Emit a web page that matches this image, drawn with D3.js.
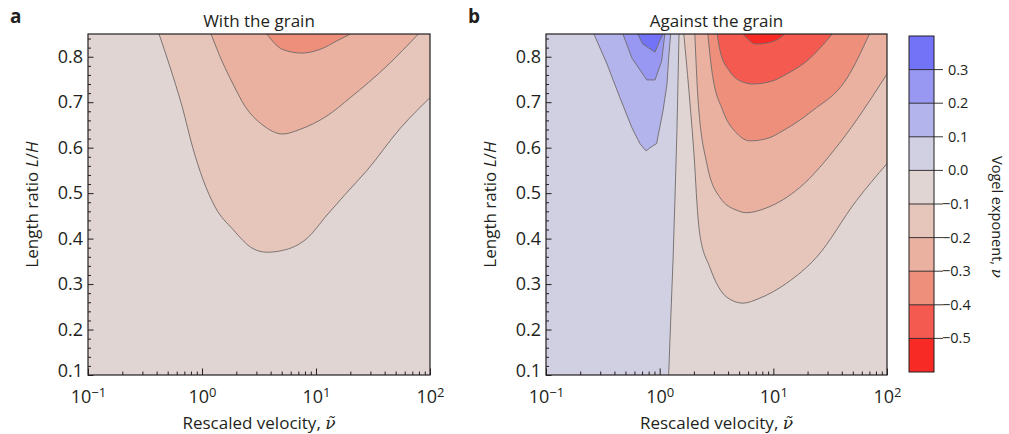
<!DOCTYPE html>
<html>
<head>
<meta charset="utf-8">
<script src="https://cdn.jsdelivr.net/npm/d3@7"></script>
<style>
body { margin: 0; background: #fff; }
text { font-family: "Open Sans", sans-serif; fill: #231f20; }
</style>
</head>
<body>
<div id="chart"></div>
<script>
// chart size
const width = 1009;
const height = 434;

// axis ticks
const velocityTicks = [0.1, 1, 10, 100];
const velocityExponents = ["\u22121", "0", "1", "2"];
const ratioTicks = [0.1, 0.2, 0.3, 0.4, 0.5, 0.6, 0.7, 0.8];

// colour bar levels (contour boundaries) and band colours, lowest band first
const levels = [-0.5, -0.4, -0.3, -0.2, -0.1, 0.0, 0.1, 0.2, 0.3];
const bandColors = ["#f82a25", "#f45a50", "#ee8f7c", "#eab1a0", "#e6c5ba",
                    "#e0d5d3", "#d0d0e2", "#b4b4ec", "#9898f2", "#7373f8"];

// panel a: with the grain, contour lines as [velocity, L/H]
const withM01 = [[0.42,0.85],[0.52,0.78],[0.67,0.69],[0.83,0.60],[1.02,0.53],[1.30,0.47],[1.87,0.42],
                 [2.8,0.378],[3.7,0.37],[5.1,0.374],[8.3,0.40],[12.5,0.452],[18,0.497],[28,0.55],[55,0.643],[100,0.71]];
const withM02 = [[1.2,0.85],[1.5,0.79],[1.87,0.74],[2.4,0.69],[3.4,0.65],[5.1,0.63],[7.2,0.64],
                 [12.5,0.67],[20,0.71],[42,0.78],[79,0.85]];
const withM03 = [[3.7,0.85],[5.1,0.816],[7.5,0.808],[10.8,0.816],[15.3,0.835],[20,0.85]];

// panel b: against the grain
const againstZero = [[1.48,0.85],[1.42,0.64],[1.36,0.48],[1.31,0.35],[1.25,0.22],[1.2,0.1]];
const againstP01 = [[0.264,0.85],[0.344,0.784],[0.447,0.71],[0.57,0.644],[0.67,0.609],[0.757,0.593],
                    [0.87,0.604],[0.94,0.609],[1.07,0.681],[1.16,0.74],[1.2,0.797],[1.25,0.85]];
const againstP02 = [[0.475,0.85],[0.57,0.797],[0.77,0.749],[0.91,0.749],[1.04,0.79],[1.11,0.85]];
const againstP03 = [[0.64,0.85],[0.71,0.828],[0.91,0.81],[1.0,0.835],[1.07,0.85]];
const againstM01 = [[1.63,0.85],[1.84,0.703],[2.04,0.556],[2.12,0.484],[2.25,0.411],[2.76,0.337],[3.9,0.271],
                    [5.4,0.258],[7.6,0.269],[13.1,0.302],[24,0.359],[54,0.484],[100,0.565]];
const againstM02 = [[2.04,0.85],[2.17,0.71],[2.6,0.565],[3.4,0.49],[4.8,0.462],[5.8,0.457],[8.8,0.468],
                    [17,0.512],[38,0.609],[100,0.762]];
const againstM03 = [[2.65,0.85],[2.88,0.769],[3.6,0.681],[4.8,0.631],[6.2,0.615],[8.8,0.62],[12.1,0.637],
                    [22,0.681],[44,0.751],[70,0.85]];
const againstM04 = [[3.2,0.85],[3.4,0.813],[4.1,0.769],[5.1,0.747],[6.6,0.74],[9.9,0.747],[13.1,0.762],
                    [19.6,0.79],[33,0.85]];
const againstM05 = [[5.4,0.85],[6.2,0.835],[6.9,0.828],[8.8,0.83],[11.4,0.841],[12.6,0.85]];

const svg = d3.select("#chart").append("svg")
  .attr("width", width)
  .attr("height", height);

const top0 = 34, bottom0 = 375;

function drawPanel(left, right, id, letter, title, fills) {
  const x = d3.scaleLog().domain([0.1, 100]).range([left, right]);
  const y = d3.scaleLinear().domain([0.1, 0.85]).range([bottom0, top0]);

  svg.append("clipPath").attr("id", id)
    .append("rect")
    .attr("x", left).attr("y", top0)
    .attr("width", right - left).attr("height", bottom0 - top0);

  const g = svg.append("g").attr("clip-path", `url(#${id})`);

  // base band (-0.1 to 0)
  g.append("rect")
    .attr("x", left).attr("y", top0)
    .attr("width", right - left).attr("height", bottom0 - top0)
    .attr("fill", bandColors[5]);

  // filled bands, each closed along the plot edges
  fills.forEach(f => {
    const line = d3.line().x(d => x(d[0])).y(d => y(d[1])).curve(f.curve);
    let p = line(f.pts);
    f.close.forEach(c => { p += `L${x(c[0])},${y(c[1])}`; });
    p += "Z";
    g.append("path").attr("d", p).attr("fill", bandColors[f.band]).attr("stroke", "none");
  });

  // contour lines on top
  fills.forEach(f => {
    const line = d3.line().x(d => x(d[0])).y(d => y(d[1])).curve(f.curve);
    g.append("path").attr("d", line(f.pts))
      .attr("fill", "none").attr("stroke", "#6f6a6a").attr("stroke-width", 0.9);
  });

  // x axis, ticks inward
  const minorX = [];
  [0.1, 1, 10].forEach(dd => { for (let k = 2; k <= 9; k++) minorX.push(k * dd); });

  svg.append("g")
    .attr("transform", `translate(0,${bottom0})`)
    .call(d3.axisBottom(x).tickValues(minorX).tickSize(-3.5).tickFormat(""))
    .call(s => s.select(".domain").remove())
    .selectAll("line").attr("stroke", "#231f20");

  const xa = svg.append("g")
    .attr("transform", `translate(0,${bottom0})`)
    .call(d3.axisBottom(x).tickValues(velocityTicks).tickSize(-6.5).tickSizeOuter(0).tickPadding(15).tickFormat(() => "10"));
  xa.select(".domain").remove();
  xa.selectAll("line").attr("stroke", "#231f20");
  xa.selectAll(".tick text")
    .attr("font-size", "18px")
    .attr("font-family", null)
    .each(function(d, i) {
      d3.select(this).append("tspan")
        .attr("dy", "-0.42em").attr("font-size", "13px")
        .text(velocityExponents[i]);
    });

  // y axis
  const minorY = d3.range(10, 86, 2).filter(v => v % 10 !== 0).map(v => v / 100);
  svg.append("g")
    .attr("transform", `translate(${left},0)`)
    .call(d3.axisLeft(y).tickValues(minorY).tickSize(-3).tickFormat(""))
    .call(s => s.select(".domain").remove())
    .selectAll("line").attr("stroke", "#231f20");

  const ya = svg.append("g")
    .attr("transform", `translate(${left},0)`)
    .call(d3.axisLeft(y).tickValues(ratioTicks).tickSize(-5.5).tickSizeOuter(0).tickPadding(5).tickFormat(d3.format(".1f")));
  ya.select(".domain").remove();
  ya.selectAll("line").attr("stroke", "#231f20");
  ya.selectAll(".tick text").attr("font-size", "18px").attr("font-family", null);
  // lowest label sits a little higher so it clears the x labels
  ya.selectAll(".tick text").filter(d => d === 0.1).attr("dy", "0.1em");

  // frame
  svg.append("rect")
    .attr("x", left).attr("y", top0)
    .attr("width", right - left).attr("height", bottom0 - top0)
    .attr("fill", "none").attr("stroke", "#231f20").attr("stroke-width", 1.2);

  const cx = (left + right) / 2;

  svg.append("text").attr("x", cx).attr("y", 27)
    .attr("text-anchor", "middle").attr("font-size", "17px").text(title);

  svg.append("text").attr("x", left - 78).attr("y", 23)
    .attr("font-size", "19px").attr("font-weight", "bold").text(letter);

  const yl = svg.append("text")
    .attr("transform", `translate(${left - 50},${(top0 + bottom0) / 2}) rotate(-90)`)
    .attr("text-anchor", "middle").attr("font-size", "17px");
  yl.append("tspan").text("Length ratio ");
  yl.append("tspan").attr("font-style", "italic").text("L");
  yl.append("tspan").text("/");
  yl.append("tspan").attr("font-style", "italic").text("H");

  const xl = svg.append("text")
    .attr("x", cx).attr("y", 429)
    .attr("text-anchor", "middle").attr("font-size", "17px");
  xl.append("tspan").text("Rescaled velocity, ");
  xl.append("tspan").attr("font-family", "DejaVu Serif").attr("font-style", "italic").text("\u03bd\u0303");
}

const lin = d3.curveLinear;
const smooth = d3.curveMonotoneX;

drawPanel(88, 430, "clipA", "a", "With the grain", [
  {pts: withM01, band: 4, close: [[100, 0.85]], curve: smooth},
  {pts: withM02, band: 3, close: [], curve: smooth},
  {pts: withM03, band: 2, close: [], curve: smooth}
]);

drawPanel(546, 887, "clipB", "b", "Against the grain", [
  {pts: againstZero, band: 6, close: [[0.1, 0.1], [0.1, 0.85]], curve: lin},
  {pts: againstP01, band: 7, close: [], curve: lin},
  {pts: againstP02, band: 8, close: [], curve: lin},
  {pts: againstP03, band: 9, close: [], curve: lin},
  {pts: againstM01, band: 4, close: [[100, 0.85]], curve: smooth},
  {pts: againstM02, band: 3, close: [[100, 0.85]], curve: smooth},
  {pts: againstM03, band: 2, close: [], curve: smooth},
  {pts: againstM04, band: 1, close: [], curve: smooth},
  {pts: againstM05, band: 0, close: [], curve: smooth}
]);

// colour bar
const cbLeft = 909, cbRight = 934, cbTop = 36, cbBottom = 372;
const cbEdges = [-0.6].concat(levels, [0.4]);
const cy = d3.scaleLinear().domain([-0.6, 0.4]).range([cbBottom, cbTop]);

svg.append("g").selectAll("rect")
  .data(bandColors)
  .enter()
  .append("rect")
  .attr("x", cbLeft)
  .attr("y", (d, i) => cy(cbEdges[i + 1]))
  .attr("width", cbRight - cbLeft)
  .attr("height", (d, i) => cy(cbEdges[i]) - cy(cbEdges[i + 1]))
  .attr("fill", d => d);

svg.append("g").selectAll("line")
  .data(levels)
  .enter()
  .append("line")
  .attr("x1", cbLeft).attr("x2", cbRight + 9)
  .attr("y1", d => cy(d)).attr("y2", d => cy(d))
  .attr("stroke", "#231f20").attr("stroke-width", 0.9);

svg.append("rect")
  .attr("x", cbLeft).attr("y", cbTop)
  .attr("width", cbRight - cbLeft).attr("height", cbBottom - cbTop)
  .attr("fill", "none").attr("stroke", "#231f20").attr("stroke-width", 1);

svg.append("g").selectAll("text")
  .data(levels)
  .enter()
  .append("text")
  .attr("x", d => d < 0 ? 942 : 948)
  .attr("y", d => cy(d))
  .attr("dy", "0.35em")
  .attr("font-size", "14.5px")
  .text(d => d3.format(".1f")(d).replace("-", "\u2212"));

const cl = svg.append("text")
  .attr("transform", "translate(992,217) rotate(90)")
  .attr("text-anchor", "middle").attr("font-size", "14.5px");
cl.append("tspan").text("Vogel exponent, ");
cl.append("tspan").attr("font-family", "DejaVu Serif").attr("font-style", "italic").attr("font-size", "15px").text("\u03bd");
</script>
</body>
</html>
